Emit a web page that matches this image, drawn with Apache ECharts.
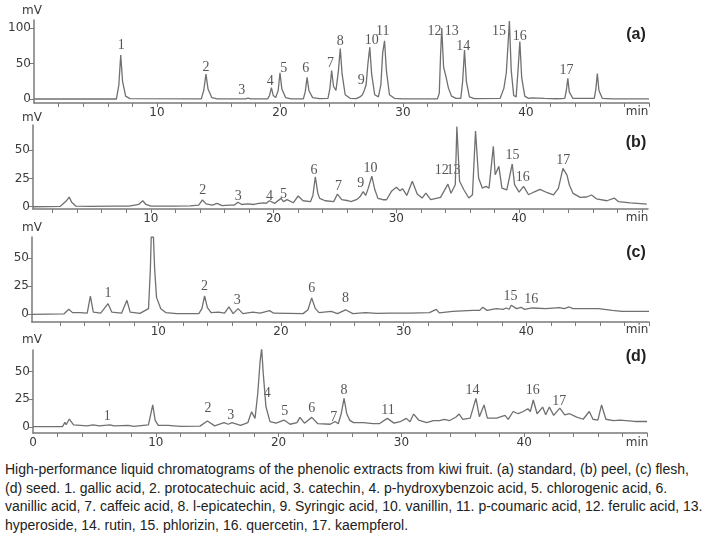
<!DOCTYPE html>
<html>
<head>
<meta charset="utf-8">
<script src="https://cdn.jsdelivr.net/npm/echarts@6/dist/echarts.min.js"></script>
<style>
  body { margin: 0; background: #fff; }
  #chart { width: 706px; height: 458px; }
  #caption {
    position: absolute; left: 5px; top: 460px; width: 701px;
    font-family: "Liberation Sans", Arial, sans-serif; font-size: 14px;
    line-height: 18.5px; color: #222; white-space: nowrap;
  }
</style>
</head>
<body>
<div id="chart"></div>
<div id="caption">High-performance liquid chromatograms of the phenolic extracts from kiwi fruit. (a) standard, (b) peel, (c) flesh,<br>(d) seed. 1. gallic acid, 2. protocatechuic acid, 3. catechin, 4. p-hydroxybenzoic acid, 5. chlorogenic acid, 6.<br>vanillic acid, 7. caffeic acid, 8. l-epicatechin, 9. Syringic acid, 10. vanillin, 11. p-coumaric acid, 12. ferulic acid, 13.<br>hyperoside, 14. rutin, 15. phlorizin, 16. quercetin, 17. kaempferol.</div>
<script>
  // 保留时间(min) / 信号(mV)
  let traceA = [[0,0],[2.8,0],[2.95,0.8],[3.1,0],[6.7,0],[6.9,20],[7.05,62],[7.2,25],[7.45,4],[7.8,0.5],
    [13.6,0.3],[13.8,12],[13.98,35],[14.15,14],[14.45,2],[14.9,0.3],[17.2,0.3],[17.4,1.2],[17.6,0.3],
    [19.0,0.3],[19.15,5],[19.3,16],[19.45,5],[19.65,2],[19.85,12],[20.0,37],[20.15,14],[20.45,2],[20.9,0.3],
    [21.9,0.3],[22.05,10],[22.2,30.5],[22.35,12],[22.65,2],[23.2,0.5],
    [23.9,1],[24.05,14],[24.2,40],[24.35,18],[24.55,12],[24.75,40],[24.9,71],[25.05,35],[25.3,6],[25.7,1],[26.2,0.5],
    [26.5,3],[26.7,6],[26.85,12],[27.0,20],[27.15,50],[27.3,73],[27.45,35],[27.7,6],[28.0,3],[28.2,20],[28.35,65],[28.5,82],[28.65,40],[28.9,6],[29.3,1],[30,0.3],
    [32.8,0.3],[32.95,8],[33.05,60],[33.15,100],[33.3,45],[33.5,31],[33.7,15],[33.95,4],[34.3,1],
    [34.7,1],[34.85,25],[35.0,69],[35.15,25],[35.4,3],[35.8,0.5],
    [37.9,1],[38.2,15],[38.4,37],[38.55,80],[38.65,110],[38.8,40],[39.0,5],[39.2,3],[39.35,40],[39.5,81],[39.65,30],[39.9,4],[40.2,1],[40.45,1.5],[40.6,0.5],[41.5,0.8],[42.5,0.4],
    [43.15,1],[43.28,12],[43.4,29],[43.52,10],[43.8,1],[45.55,1],[45.68,14],[45.8,36],[45.93,12],[46.2,1],[47,0.3],[50,0.2]]

  let traceB = [[0.4,0],[2.6,0.3],[2.9,3],[3.1,5],[3.35,8.5],[3.55,4],[3.9,0.5],[5,0.3],[7,0.5],[8.2,0.5],[8.7,1.5],[9.0,2],[9.34,5.3],[9.6,2],[10,0.5],[12,0.5],
    [13.2,0.8],[13.9,1.5],[14.2,6],[14.5,2.5],[15.0,1.5],[15.4,3],[15.8,1],[16.4,1.5],[16.8,1.5],[17.1,4],[17.4,2],[17.9,2.5],[18.4,2],[18.8,3],[19.2,3.5],[19.4,3],
    [19.66,5.3],[20.1,3],[20.6,7.4],[20.8,4.5],[21.1,6.3],[21.6,3.5],[22.0,9.5],[22.4,5.3],[23.0,4.5],[23.2,10],[23.4,26.5],[23.6,12],[23.75,7.4],[24.2,5.3],[24.9,4.5],
    [25.2,11.2],[25.55,6.3],[26.1,5.3],[26.3,4.5],[26.8,6.5],[27.05,9],[27.3,13.3],[27.5,10],[27.7,16],[28.0,27],[28.25,15],[28.5,7.4],[28.9,6.2],[29.2,6.2],[29.6,13.6],
    [30.0,17.2],[30.3,14.2],[30.5,16],[30.85,10],[31.3,22.5],[31.7,11.2],[32.1,7.7],[32.4,12.1],[32.8,6.2],[33.6,8.3],[34.2,20],[34.45,12],[34.8,19.5],[34.93,71],[35.15,22.5],
    [35.5,15],[35.9,7.7],[36.2,10.6],[36.45,67],[36.7,25.4],[37.0,16.5],[37.3,18],[37.55,16.5],[37.9,53.4],[38.05,28.3],[38.35,35.7],[38.6,16.5],[39.0,15],[39.44,37.8],
    [39.63,19.5],[40.0,13],[40.36,18],[40.77,10.6],[41.2,13],[41.7,15.4],[42.3,12.4],[42.8,10.4],[43.2,16.3],[43.57,34],[43.9,28],[44.1,19],[44.2,19.5],[44.4,11.8],
    [44.98,8.3],[45.05,10],[45.5,8.6],[45.9,10.4],[46.3,7],[47.15,5.3],[47.75,7.7],[48.1,4.5],[49.05,3.5],[49.9,2.8],[50.4,2.3]]

  let traceC = [[-0.3,0],[2.3,0.3],[2.7,4.4],[3.0,1.5],[3.6,1.5],[4.2,1],[4.46,16],[4.7,2],[5.3,1],[5.9,9.4],[6.2,2],[7.0,1],[7.44,12.4],[7.7,2],[8.5,0.8],
    [9.2,5],[9.35,40],[9.42,68.4],[9.6,68.4],[9.7,40],[9.85,15],[10.2,5],[10.6,1.5],[11.5,0.6],[13.3,0.6],[13.55,5],[13.77,16.2],[14.0,6],[14.3,1.5],[14.9,2],[15.4,1],
    [15.75,6.5],[16.1,0.6],[16.5,5],[16.9,0.6],[17.7,2],[18.3,1],[19.07,3.3],[19.4,1],[21.8,0.6],[22.2,4],[22.5,14.5],[22.8,5],[23.1,1.5],[24.1,2.6],[24.6,0.6],
    [25.26,4],[25.86,0.6],[26.9,1.5],[27.8,0.8],[28.85,1],[30.5,1],[32.1,1.5],[32.66,4.4],[32.9,1.3],[34.0,2.6],[35.64,3.5],[36.2,3.5],[36.45,6.2],[36.8,3.5],
    [37.55,5],[38.1,4.4],[38.36,5.6],[38.6,4.5],[38.77,8],[39.2,5],[39.58,6.2],[39.85,4.4],[40.48,5.6],[41.6,5],[42.7,6],[43.1,5],[43.5,6.5],[43.8,5],[45.9,5],
    [47.0,3.5],[47.8,2.6],[50,2.6]]

  let traceD = [[0,0.3],[2.4,0.3],[2.6,4.2],[2.7,2],[2.96,7.2],[3.3,2],[4.4,1],[4.9,2],[5.4,1],[6.27,2],[6.6,1],[7.76,1.5],[8.2,0.5],[9.4,2],[9.6,12],[9.75,19.9],
    [9.95,6],[10.2,1.5],[11.0,1.5],[12,0.5],[13.6,0.8],[14.2,5.4],[14.8,1],[15.55,4],[15.9,2.5],[16.2,4],[16.9,1.5],[17.5,4],[17.8,13.8],[18.08,7.8],[18.3,30],
    [18.5,60],[18.62,71],[18.75,48.4],[18.97,18.3],[19.3,4.8],[19.8,3.5],[20.44,6.3],[20.93,2.5],[21.5,4],[21.74,8.7],[22.1,3.5],[22.7,8.7],[23.2,3],[24.2,2.5],
    [24.6,5],[24.86,3],[25.1,12],[25.33,25.9],[25.55,12],[25.8,6],[26.1,4],[26.9,4],[27.7,3],[28.2,3],[28.85,7.8],[29.4,3.5],[29.9,4.8],[30.4,7.8],[30.7,4.8],
    [31.0,11.7],[31.4,6.3],[32.06,3.9],[32.6,5.7],[33.1,5.7],[33.5,6.9],[33.9,5.7],[34.45,9],[34.7,11.7],[35.0,6.9],[35.6,8],[36.07,25.9],[36.35,9.3],[36.73,19.9],
    [37.0,8],[37.76,8],[38.44,10.5],[38.7,6.9],[39.1,14],[39.5,12],[39.93,14],[40.3,16.5],[40.5,14],[40.74,24.4],[41.05,12],[41.5,18],[41.75,11],[42.05,18],
    [42.4,10.5],[42.9,17],[43.3,11],[43.7,12],[44.27,9],[44.8,7],[45.3,14],[45.6,7],[46.0,6.3],[46.3,19.9],[46.65,7],[47.26,5.7],[47.8,6.3],[49,5],[50,5]]

  // 峰编号: [编号, min, mV]
  let peaksA = [['1',7.1,75],['2',13.98,44],['3',16.9,12],['4',19.2,25],['5',20.3,43],['6',22.1,43],['7',24.1,50],['8',24.9,81],['9',26.6,27],
    ['10',27.45,82],['11',28.35,96],['12',32.56,96],['13',33.96,96],['14',34.9,74],['15',37.8,96],['16',39.5,88],['17',43.3,41]]
  let peaksB = [['2',14.23,14.2],['3',17.13,9.5],['4',19.66,9.5],['5',20.8,11.2],['6',23.3,32.5],['7',25.28,18.3],['9',27.1,20.7],['10',27.9,34],
    ['12',33.7,32],['13',34.65,32],['15',39.46,45.5],['16',40.3,26],['17',43.6,41]]
  let peaksC = [['1',5.9,18.3],['2',13.77,24.8],['3',16.44,12.4],['6',22.5,22.7],['8',25.26,13.9],['15',38.7,16.2],['16',40.4,13.3]]
  let peaksD = [['1',6.05,9.3],['2',14.25,17],['3',16.1,10.3],['4',19.08,30.4],['5',20.5,13.8],['6',22.7,16.8],['7',24.5,8.7],['8',25.33,32.8],
    ['11',28.9,15.3],['14',35.8,32.8],['16',40.7,33.4],['17',42.85,23.5]]

  let yLabelsA = [0, 50, 100]
  let yLabelsBCD = [0, 25, 50]
  let xLabels = [10, 20, 30, 40]
  let xLabelsD = [0, 10, 20, 30, 40]
  let xTicks = [2, 4, 6, 8, 10, 12, 14, 16, 18, 20, 22, 24, 26, 28, 30, 32, 34, 36, 38, 40, 42, 44, 46, 48, 50]

  let panels = [
    { trace: traceA, peaks: peaksA, yLabels: yLabelsA, xLab: xLabels, left: 34, top: 20, width: 615, height: 83, xmin: 0, xmax: 50, ymin: -5.6, ymax: 111.3, tag: '(a)', tagY: 35, mvY: 11, minY: 112 },
    { trace: traceB, peaks: peaksB, yLabels: yLabelsBCD, xLab: xLabels, left: 33, top: 125, width: 615, height: 84, xmin: 0.4, xmax: 50.5, ymin: -2, ymax: 72.3, tag: '(b)', tagY: 143, mvY: 118, minY: 218 },
    { trace: traceC, peaks: peaksC, yLabels: yLabelsBCD, xLab: xLabels, left: 32, top: 237, width: 617, height: 85, xmin: -0.3, xmax: 50, ymin: -6.8, ymax: 68.4, tag: '(c)', tagY: 253, mvY: 228, minY: 330 },
    { trace: traceD, peaks: peaksD, yLabels: yLabelsBCD, xLab: xLabelsD, left: 33, top: 350, width: 614, height: 83, xmin: 0, xmax: 50, ymin: -5.4, ymax: 69.5, tag: '(d)', tagY: 357, mvY: 340, minY: 443 }
  ]

  let axisColor = '#7a7a7a'
  let textColor = '#3a3a3a'
  let grid = [], xAxis = [], yAxis = [], series = [], graphic = []

  panels.forEach((p, i) => {
    grid.push({ left: p.left, top: p.top, width: p.width, height: p.height })
    xAxis.push({
      type: 'value', gridIndex: i, min: p.xmin, max: p.xmax,
      axisLine: { onZero: false, lineStyle: { color: axisColor, width: 1.5 } },
      axisTick: { customValues: xTicks, length: 4, lineStyle: { color: axisColor } },
      axisLabel: { customValues: p.xLab, margin: 4, color: textColor, fontFamily: 'DejaVu Sans', fontSize: 12 },
      splitLine: { show: false }
    })
    yAxis.push({
      type: 'value', gridIndex: i, min: p.ymin, max: p.ymax,
      axisLine: { show: true, onZero: false, lineStyle: { color: axisColor, width: 1.5 } },
      axisTick: { show: true, customValues: p.yLabels, length: 4, lineStyle: { color: axisColor } },
      axisLabel: { customValues: p.yLabels, margin: 3, color: textColor, fontFamily: 'DejaVu Sans', fontSize: 12 },
      splitLine: { show: false }
    })
    series.push({
      type: 'line', xAxisIndex: i, yAxisIndex: i, data: p.trace,
      symbol: 'none', silent: true,
      lineStyle: { color: '#707070', width: 1.3 }
    })
    series.push({
      type: 'scatter', xAxisIndex: i, yAxisIndex: i,
      data: p.peaks.map(d => [d[1], d[2], d[0]]),
      symbolSize: 1, itemStyle: { color: 'rgba(0,0,0,0)' },
      label: {
        show: true, position: 'inside', formatter: q => q.data[2],
        fontFamily: 'Liberation Serif', fontSize: 14, color: '#2a2a2a'
      }
    })
    graphic.push({ type: 'text', style: { text: 'mV', x: 32, y: p.mvY, align: 'center', verticalAlign: 'middle', font: '12px "DejaVu Sans"', fill: textColor } })
    graphic.push({ type: 'text', style: { text: 'min', x: 637, y: p.minY, align: 'center', verticalAlign: 'middle', font: '12px "DejaVu Sans"', fill: textColor } })
    graphic.push({ type: 'text', style: { text: p.tag, x: 636, y: p.tagY, align: 'center', verticalAlign: 'middle', font: 'bold 16px "Liberation Sans"', fill: '#222' } })
  })

  let myChart = echarts.init(document.getElementById('chart'))
  let option = { animation: false, grid, xAxis, yAxis, series, graphic }
  option && myChart.setOption(option)
</script>
</body>
</html>
